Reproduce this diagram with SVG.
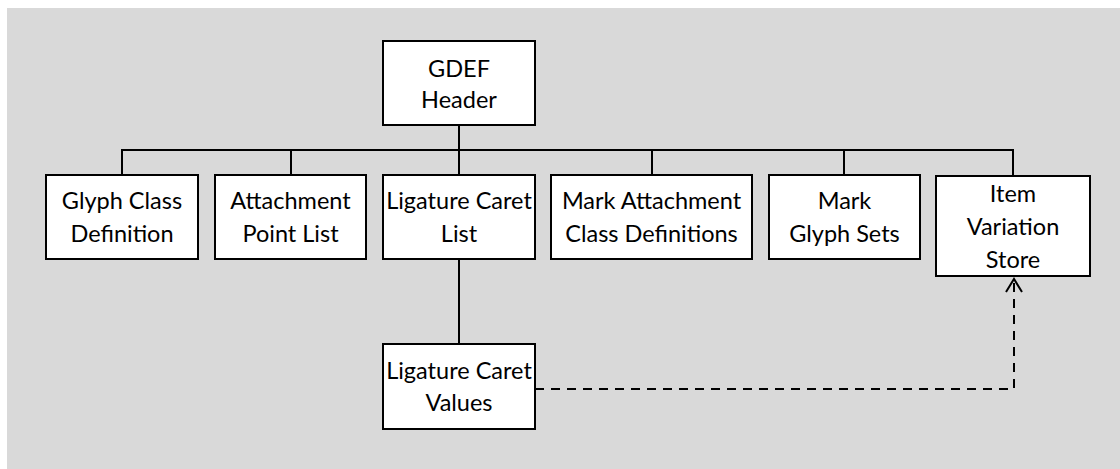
<svg xmlns="http://www.w3.org/2000/svg" width="1120" height="469" viewBox="0 0 1120 469">
  <style>
    .box { fill: #ffffff; stroke: #000000; stroke-width: 2; }
    .lbl { font-family: Lato, "Open Sans", sans-serif; font-size: 23.5px; fill: #000000; text-anchor: middle; }
    .wire { fill: none; stroke: #000000; stroke-width: 2; }
    .dash { fill: none; stroke: #000000; stroke-width: 2; stroke-dasharray: 9 7; }
  </style>
  <defs>
    <marker id="open-arrow" viewBox="0 0 20 20" refX="16" refY="10" markerWidth="20" markerHeight="20" markerUnits="userSpaceOnUse" orient="auto">
      <path d="M3,2 L16,10 L3,18" fill="none" stroke="#000000" stroke-width="2"/>
    </marker>
  </defs>

  <!-- canvas background -->
  <rect x="7" y="8" width="1113" height="461" fill="#d9d9d9"/>

  <!-- connectors -->
  <g id="connectors">
    <line class="wire" x1="459" y1="125" x2="459" y2="150"/>
    <line class="wire" x1="121" y1="150" x2="1014" y2="150"/>
    <line class="wire" x1="122" y1="150" x2="122" y2="175"/>
    <line class="wire" x1="291" y1="150" x2="291" y2="175"/>
    <line class="wire" x1="459" y1="150" x2="459" y2="175"/>
    <line class="wire" x1="652" y1="150" x2="652" y2="175"/>
    <line class="wire" x1="844" y1="150" x2="844" y2="175"/>
    <line class="wire" x1="1013" y1="150" x2="1013" y2="175"/>
    <line class="wire" x1="459" y1="259" x2="459" y2="344"/>
    <path class="dash" d="M535,389 H1014 V279" marker-end="url(#open-arrow)"/>
  </g>

  <g id="gdef-header">
    <rect class="box" x="383" y="41" width="152" height="84"/>
    <text class="lbl" x="459" y="77">GDEF</text>
    <text class="lbl" x="459" y="108">Header</text>
  </g>

  <g id="glyph-class-definition">
    <rect class="box" x="46" y="175" width="152" height="84"/>
    <text class="lbl" x="122" y="209">Glyph Class</text>
    <text class="lbl" x="122" y="242">Definition</text>
  </g>

  <g id="attachment-point-list">
    <rect class="box" x="215" y="175" width="151" height="84"/>
    <text class="lbl" x="290.5" y="209">Attachment</text>
    <text class="lbl" x="290.5" y="242">Point List</text>
  </g>

  <g id="ligature-caret-list">
    <rect class="box" x="383" y="175" width="152" height="84"/>
    <text class="lbl" x="459" y="209">Ligature Caret</text>
    <text class="lbl" x="459" y="242">List</text>
  </g>

  <g id="mark-attachment-class-definitions">
    <rect class="box" x="551" y="175" width="201" height="84"/>
    <text class="lbl" x="651.5" y="209">Mark Attachment</text>
    <text class="lbl" x="651.5" y="242">Class Definitions</text>
  </g>

  <g id="mark-glyph-sets">
    <rect class="box" x="769" y="175" width="151" height="84"/>
    <text class="lbl" x="844.5" y="209">Mark</text>
    <text class="lbl" x="844.5" y="242">Glyph Sets</text>
  </g>

  <g id="item-variation-store">
    <rect class="box" x="936" y="176" width="154" height="100"/>
    <text class="lbl" x="1013" y="202">Item</text>
    <text class="lbl" x="1013" y="235">Variation</text>
    <text class="lbl" x="1013" y="268">Store</text>
  </g>

  <g id="ligature-caret-values">
    <rect class="box" x="383" y="344" width="152" height="85"/>
    <text class="lbl" x="459" y="379">Ligature Caret</text>
    <text class="lbl" x="459" y="411">Values</text>
  </g>
</svg>
